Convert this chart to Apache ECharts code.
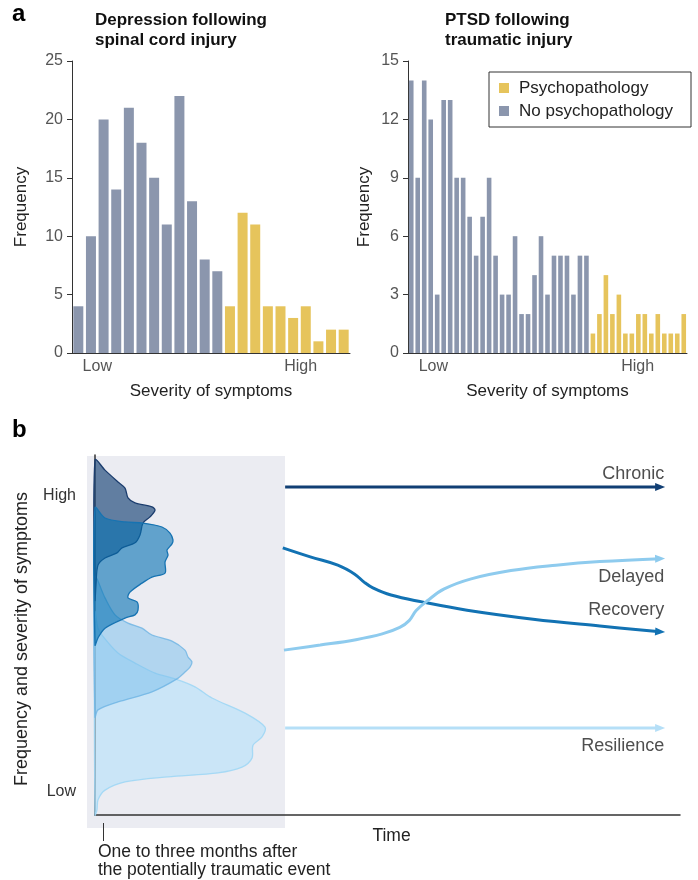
<!DOCTYPE html>
<html><head><meta charset="utf-8">
<script src="https://cdn.jsdelivr.net/npm/echarts@6/dist/echarts.min.js"></script>
<style>html,body{margin:0;padding:0;background:#fff}#c{width:698px;height:880px}</style>
</head><body><div id="c"></div>
<script>
// ---------- Panel a: data ----------
const depCategories = ['1','2','3','4','5','6','7','8','9','10','11','12','13','14','15','16','17','18','19','20','21','22'];
const depNoPsych = [4,10,20,14,21,18,15,11,22,13,8,7];
const depPsych = [4,12,11,4,4,3,4,1,2,2];
const ptsdCategories = ['1','2','3','4','5','6','7','8','9','10','11','12','13','14','15','16','17','18','19','20','21','22','23','24','25','26','27','28','29','30','31','32','33','34','35','36','37','38','39','40','41','42','43'];
const ptsdNoPsych = [14,9,14,12,3,13,13,9,9,7,5,7,9,5,3,3,6,2,2,4,6,3,5,5,5,3,5,5];
const ptsdPsych = [1,2,4,2,3,1,1,2,2,1,2,1,1,1,2];
const severityLabels = ['Low','High'];
const depSeverityPos = [2.0, 18.1];
const ptsdSeverityPos = [3.9, 35.4];

// ---------- Panel b: data (time 0-100, severity 0-100) ----------
const bAxisLabels = ['Low','High'];
const bAxisLabelPos = [6.4, 88.6];
const onsetTickPos = [1.4];
const onsetLabelPos = [0.5];
const onsetLabel = 'One to three months after\nthe potentially traumatic event';
const chronicLine = [[32.5,91.1],[96.6,91.1]];
const recoveryLine = [[32.1,74.2],[36.8,71.7],[41.5,69.4],[44.4,66.9],[46.0,64.7],[47.5,63.1],[50.6,61.1],[55.9,59.2],[63.6,56.9],[74.9,54.4],[86.3,52.5],[96.6,50.9]];
const delayedLine = [[32.3,45.8],[38.5,47.2],[44.6,48.7],[49.1,50.3],[52.1,52.1],[53.7,54.0],[54.9,56.8],[56.8,59.5],[59.7,62.8],[64.3,65.6],[71.1,67.9],[78.8,69.4],[86.3,70.4],[96.6,71.2]];
const resilienceLine = [[32.5,24.2],[96.6,24.2]];
const trajectoryNames = ['Chronic','Delayed','Recovery','Resilience'];
const trajectoryLabelPos = [[97.3,94.7],[97.3,66.1],[97.3,56.9],[97.3,19.2]];
const shapeChronic = [[0,98.6],[1.71,95.8],[3.93,92.5],[5.13,90.8],[5.64,88.1],[6.84,86.7],[9.74,85.6],[10.26,84.7],[9.40,82.8],[8.21,81.1],[7.69,77.8],[6.84,75.6],[4.62,74.2],[3.76,72.8],[1.71,71.4],[0.51,69.4],[0.17,64.0],[0,59.7]];
const shapeRecovery = [[0,85.3],[1.71,82.5],[5.13,81.4],[8.21,81.1],[11.45,80.0],[12.82,78.3],[13.33,76.4],[13.16,75.3],[12.31,73.6],[12.48,72.2],[11.97,70.3],[11.97,67.2],[9.74,66.1],[8.03,64.4],[5.98,61.9],[5.64,60.3],[7.18,59.2],[7.35,56.9],[6.84,55.6],[5.13,54.7],[1.71,51.9],[0.51,49.2],[0,47.2]];
const shapeDelayed = [[0,66.1],[1.71,60.3],[3.42,55.6],[5.64,53.3],[8.03,51.9],[9.74,50.0],[13.16,48.3],[15.38,45.8],[15.90,43.9],[16.58,42.5],[16.24,41.1],[15.38,39.7],[14.02,37.8],[9.74,34.2],[3.93,31.4],[0.51,29.2],[0,27.2]];
const shapeResilience = [[0,56.4],[0.51,51.9],[1.71,48.9],[3.93,45.0],[6.84,42.2],[10.26,39.4],[13.68,37.8],[17.09,35.6],[20.0,32.5],[25.64,28.3],[29.06,24.4],[28.55,21.7],[27.01,19.4],[26.84,15.8],[25.13,13.3],[21.03,11.7],[12.48,10.6],[5.13,9.2],[1.71,6.9],[0.51,4.2],[0.34,1.4],[0,0]];

const GREY = '#8b96ad', YELLOW = '#e6c45c';
const FONT = '"Liberation Sans", Arial, sans-serif';

const chart = echarts.init(document.getElementById('c'), null, {renderer: 'canvas'});

function fill(n) { const a = []; for (let i = 0; i < n; i++) a.push('-'); return a; }
function pickLabel(pos, labels) { return v => { let best = 0; for (let i = 0; i < pos.length; i++) if (Math.abs(pos[i]-v) < Math.abs(pos[best]-v)) best = i; return labels[best]; }; }

function shapeSeries(pts, fillColor, stroke, z) {
  return {
    type: 'custom', xAxisIndex: 4, yAxisIndex: 2, z: z, silent: true,
    data: pts,
    renderItem: (params, api) => {
      if (params.dataIndex !== 0) return null;
      const points = pts.map(p => api.coord(p));
      return {type: 'polygon', shape: {points: points, smooth: 0.3}, style: {fill: fillColor, stroke: stroke, lineWidth: 1.3}};
    }
  };
}
function arrowLine(pts, color, rot, smooth, width) {
  const data = pts.map((p, i) => i === pts.length - 1 ? {value: p, symbol: 'triangle', symbolSize: [8, 10], symbolRotate: rot} : {value: p, symbol: 'none'});
  return {type: 'line', xAxisIndex: 4, yAxisIndex: 2, data: data, smooth: smooth, showSymbol: true, symbol: 'none',
    lineStyle: {color: color, width: width}, itemStyle: {color: color}, z: 5, silent: true, animation: false};
}

const axisDark = {lineStyle: {color: '#333', width: 1}};

const option = {
  animation: false,
  textStyle: {fontFamily: FONT},
  title: [
    {text: 'a', left: 12, top: 2, padding: 0, textStyle: {fontSize: 24, fontWeight: 'bold', color: '#000', fontFamily: FONT}},
    {text: 'b', left: 12, top: 418, padding: 0, textStyle: {fontSize: 24, fontWeight: 'bold', color: '#000', fontFamily: FONT}},
    {text: 'Depression following\nspinal cord injury', left: 95, top: 10, padding: 0, textStyle: {fontSize: 17, fontWeight: 'bold', lineHeight: 20, color: '#111', fontFamily: FONT}},
    {text: 'PTSD following\ntraumatic injury', left: 445, top: 10, padding: 0, textStyle: {fontSize: 17, fontWeight: 'bold', lineHeight: 20, color: '#111', fontFamily: FONT}}
  ],
  legend: {
    data: ['Psychopathology', 'No psychopathology'], orient: 'vertical', left: 489, top: 72,
    padding: [7, 7, 7, 10], itemGap: 5, itemWidth: 10, itemHeight: 10, icon: 'rect',
    borderColor: '#333', borderWidth: 1, selectedMode: false,
    textStyle: {fontSize: 17, color: '#222', lineHeight: 18, width: 165, padding: [0, 0, 0, 5], fontFamily: FONT}
  },
  grid: [
    {left: 72, top: 61, width: 278, height: 292},
    {left: 408, top: 61, width: 279, height: 292},
    {left: 95, top: 455, width: 585, height: 360}
  ],
  graphic: [
    {type: 'rect', z: -10, silent: true, shape: {x: 87, y: 456, width: 198, height: 372}, style: {fill: '#ebecf2'}}
  ],
  xAxis: [
    {gridIndex: 0, type: 'category', data: depCategories, axisLine: axisDark, axisTick: {show: false}, axisLabel: {show: false},
      name: 'Severity of symptoms', nameLocation: 'middle', nameGap: 30, nameTextStyle: {fontSize: 17, color: '#222'}},
    {gridIndex: 0, type: 'value', min: 0, max: 22, position: 'bottom', axisLine: {show: false}, axisTick: {show: false}, splitLine: {show: false},
      axisLabel: {customValues: depSeverityPos, formatter: pickLabel(depSeverityPos, severityLabels), fontSize: 16, color: '#555', margin: 6}},
    {gridIndex: 1, type: 'category', data: ptsdCategories, axisLine: axisDark, axisTick: {show: false}, axisLabel: {show: false},
      name: 'Severity of symptoms', nameLocation: 'middle', nameGap: 30, nameTextStyle: {fontSize: 17, color: '#222'}},
    {gridIndex: 1, type: 'value', min: 0, max: 43, position: 'bottom', axisLine: {show: false}, axisTick: {show: false}, splitLine: {show: false},
      axisLabel: {customValues: ptsdSeverityPos, formatter: pickLabel(ptsdSeverityPos, severityLabels), fontSize: 16, color: '#555', margin: 6}},
    {gridIndex: 2, type: 'value', min: 0, max: 100, axisLine: {lineStyle: {color: '#333', width: 1.5}}, axisTick: {show: false}, axisLabel: {show: false}, splitLine: {show: false},
      name: 'Time', nameLocation: 'middle', nameGap: 12, nameTextStyle: {fontSize: 17.5, color: '#222', padding: [0, 0, 0, 8]}},
    {gridIndex: 2, type: 'value', min: 0, max: 100, position: 'bottom', offset: 8, axisLine: {show: false}, splitLine: {show: false},
      axisTick: {show: true, customValues: onsetTickPos, length: 18, lineStyle: {color: '#333', width: 1}},
      axisLabel: {customValues: onsetLabelPos, formatter: () => onsetLabel, align: 'left', margin: 20, fontSize: 17.5, lineHeight: 18, color: '#222'}}
  ],
  yAxis: [
    {gridIndex: 0, type: 'value', min: 0, max: 25, interval: 5, axisLine: {show: true, lineStyle: {color: '#333'}}, axisTick: {show: true, length: 5, lineStyle: {color: '#333'}},
      axisLabel: {fontSize: 16, color: '#555', margin: 9}, splitLine: {show: false},
      name: 'Frequency', nameLocation: 'middle', nameGap: 42, nameRotate: 90, nameTextStyle: {fontSize: 17, color: '#222'}},
    {gridIndex: 1, type: 'value', min: 0, max: 15, interval: 3, axisLine: {show: true, lineStyle: {color: '#333'}}, axisTick: {show: true, length: 5, lineStyle: {color: '#333'}},
      axisLabel: {fontSize: 16, color: '#555', margin: 9}, splitLine: {show: false},
      name: 'Frequency', nameLocation: 'middle', nameGap: 35, nameRotate: 90, nameTextStyle: {fontSize: 17, color: '#222'}},
    {gridIndex: 2, type: 'value', min: 0, max: 100, axisLine: {show: true, lineStyle: {color: '#333', width: 1.5}}, axisTick: {show: false}, splitLine: {show: false},
      axisLabel: {customValues: bAxisLabelPos, formatter: pickLabel(bAxisLabelPos, bAxisLabels), fontSize: 16, color: '#333', margin: 19},
      name: 'Frequency and severity of symptoms', nameLocation: 'middle', nameGap: 64, nameRotate: 90, nameTextStyle: {fontSize: 18, color: '#222', padding: [0, 8, 0, 0]}}
  ],
  series: [
    {name: 'No psychopathology', type: 'bar', xAxisIndex: 0, yAxisIndex: 0, stack: 'dep', barWidth: 10, itemStyle: {color: GREY},
      data: depNoPsych.concat(fill(depPsych.length))},
    {name: 'Psychopathology', type: 'bar', xAxisIndex: 0, yAxisIndex: 0, stack: 'dep', barWidth: 10, itemStyle: {color: YELLOW},
      data: fill(depNoPsych.length).concat(depPsych)},
    {name: 'No psychopathology', type: 'bar', xAxisIndex: 2, yAxisIndex: 1, stack: 'ptsd', barWidth: 4.6, itemStyle: {color: GREY},
      data: ptsdNoPsych.concat(fill(ptsdPsych.length))},
    {name: 'Psychopathology', type: 'bar', xAxisIndex: 2, yAxisIndex: 1, stack: 'ptsd', barWidth: 4.6, itemStyle: {color: YELLOW},
      data: fill(ptsdNoPsych.length).concat(ptsdPsych)},
    shapeSeries(shapeResilience, 'rgba(180,225,250,0.6)', 'rgba(160,215,245,0.9)', 1),
    shapeSeries(shapeDelayed, 'rgba(120,190,235,0.5)', 'rgba(110,180,228,0.8)', 2),
    shapeSeries(shapeChronic, 'rgba(31,74,122,0.68)', '#1b3d6e', 3),
    shapeSeries(shapeRecovery, 'rgba(5,113,178,0.6)', '#1673b2', 4),
    arrowLine(chronicLine, '#113f74', -90, false, 3),
    arrowLine(recoveryLine, '#1272b3', -94, 0.4, 3),
    arrowLine(delayedLine, '#8ecbee', -88, 0.4, 3),
    arrowLine(resilienceLine, '#b5dff7', -90, false, 3),
    {type: 'scatter', xAxisIndex: 4, yAxisIndex: 2, symbolSize: 0, silent: true, z: 6,
      data: trajectoryNames.map((n, i) => ({name: n, value: trajectoryLabelPos[i]})),
      label: {show: true, position: 'left', distance: 0, formatter: p => p.name, fontSize: 18, color: '#222'}}
  ]
};
chart.setOption(option);
</script></body></html>
